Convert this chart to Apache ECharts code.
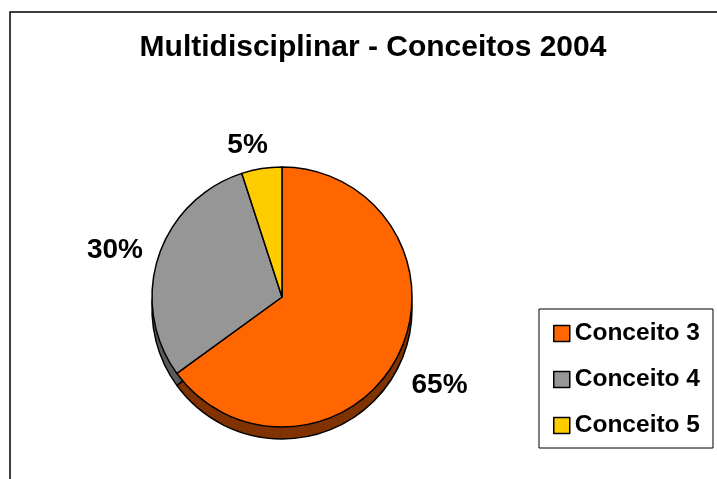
<!DOCTYPE html>
<html lang="pt">
<head>
    <meta charset="utf-8">
    <title>Multidisciplinar - Conceitos 2004</title>
    <script src="https://cdn.jsdelivr.net/npm/echarts@6/dist/echarts.min.js"></script>
    <style>
        html, body { margin: 0; padding: 0; background: #fff; }
        #chart { width: 717px; height: 479px; }
    </style>
</head>
<body>
<div id="chart"></div>
<script type="text/javascript">
    // dados
    var titulo = 'Multidisciplinar - Conceitos 2004';
    var categorias = ['Conceito 3', 'Conceito 4', 'Conceito 5'];
    var valores = [65, 30, 5];
    var cores = ['#FF6600', '#969696', '#FFCC00'];
    var coresLado = ['#803300', '#5a5a5a', '#806600']; // lateral "3D"
    var deslocRotulos = [[-2, 24], [1, -3], [13, -11]]; // ajuste fino dos rótulos

    var fonte = '"Liberation Sans", Arial, sans-serif';

    var dadosTopo = categorias.map(function (c, i) {
        return {
            name: c,
            value: valores[i],
            itemStyle: { color: cores[i] },
            label: { offset: deslocRotulos[i] }
        };
    });
    var dadosLado = categorias.map(function (c, i) {
        return { name: c, value: valores[i], itemStyle: { color: coresLado[i] } };
    });

    var myChart = echarts.init(document.getElementById('chart'), null, { renderer: 'canvas' });
    var option = {
        backgroundColor: '#ffffff',
        animation: false,
        title: {
            text: titulo,
            left: 368,
            top: 28,
            textAlign: 'center',
            textStyle: { fontFamily: fonte, fontSize: 30, fontWeight: 'bold', color: '#000' }
        },
        graphic: [{
            type: 'rect',
            shape: { x: 10, y: 12, width: 720, height: 480 },
            style: { fill: 'none', stroke: '#000', lineWidth: 1.5 },
            silent: true,
            z: -1
        }],
        legend: {
            data: categorias,
            orient: 'vertical',
            left: 539,
            top: 309,
            padding: [12, 13, 10, 14],
            itemWidth: 16,
            itemHeight: 16,
            itemGap: 21,
            itemTextGap: 8,
            icon: 'rect',
            borderColor: '#000',
            borderWidth: 1,
            itemStyle: { borderColor: '#000', borderWidth: 1.5 },
            textStyle: { fontFamily: fonte, fontSize: 24.5, fontWeight: 'bold', color: '#000', lineHeight: 24 }
        },
        series: [
            {
                name: 'topo',
                type: 'pie',
                z: 3,
                center: [282, 297],
                radius: [0, 130],
                startAngle: 90,
                clockwise: true,
                data: dadosTopo,
                itemStyle: { borderColor: '#000', borderWidth: 1.5 },
                label: {
                    show: true,
                    position: 'outside',
                    formatter: '{c}%',
                    fontFamily: fonte,
                    fontSize: 28,
                    fontWeight: 'bold',
                    color: '#000'
                },
                labelLine: { show: false, length: 12, length2: 0 },
                emphasis: { disabled: true }
            },
            {
                name: 'lado',
                type: 'pie',
                z: 2,
                center: [282, 309],
                radius: [0, 130],
                startAngle: 90,
                clockwise: true,
                data: dadosLado,
                itemStyle: { borderColor: '#000', borderWidth: 1.5 },
                label: { show: false },
                labelLine: { show: false },
                emphasis: { disabled: true },
                silent: true
            }
        ]
    };
    myChart.setOption(option);
</script>
</body>
</html>
